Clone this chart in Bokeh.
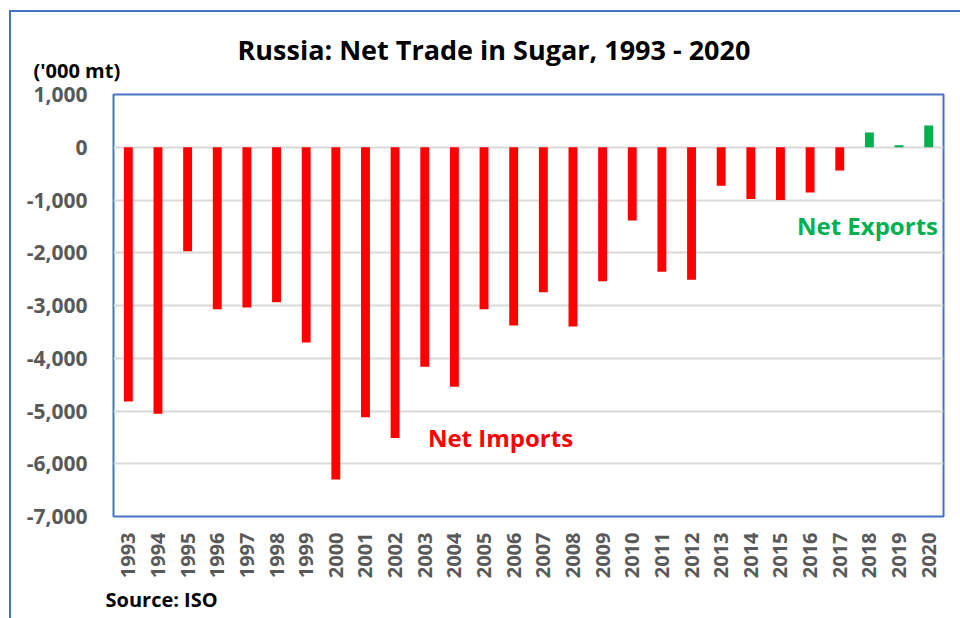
from bokeh.plotting import figure
from bokeh.models import Range1d, Label, NumeralTickFormatter, FixedTicker, Title
from bokeh.embed import file_html
from bokeh.resources import INLINE
import math

years = [str(y) for y in range(1993, 2021)]
net_trade = [-4820, -5050, -1970, -3070, -3040, -2940, -3700, -6300, -5120, -5510,
             -4160, -4540, -3070, -3380, -2750, -3400, -2540, -1390, -2360, -2510,
             -730, -980, -1000, -860, -440, 280, 40, 410]
y_ticks = [-7000, -6000, -5000, -4000, -3000, -2000, -1000, 0, 1000]

RED = "#FF0000"
GREEN = "#00B050"
BLUE = "#4472C4"
colors = [GREEN if v > 0 else RED for v in net_trade]

FONT = "Open Sans"

p = figure(width=960, height=618, x_range=years, y_range=Range1d(-7000, 1000),
           output_backend="svg", toolbar_location=None,
           min_border_left=113, min_border_right=17, min_border_top=94, min_border_bottom=102,
           border_fill_color=None, background_fill_color="white")

p.styles = {"background": f"linear-gradient({BLUE},{BLUE}) 9px 10px / 2px 100% no-repeat, "
                          f"linear-gradient({BLUE},{BLUE}) 9px 10px / 100% 2px no-repeat, white"}

p.vbar(x=years, top=net_trade, bottom=0, width=0.3, fill_color=colors, line_color=None)

p.outline_line_color = BLUE
p.outline_line_width = 2
p.xgrid.grid_line_color = None
p.ygrid.grid_line_color = "#D9D9D9"
p.ygrid.grid_line_width = 2
p.ygrid.ticker = FixedTicker(ticks=y_ticks)

p.yaxis.ticker = FixedTicker(ticks=y_ticks)
p.yaxis.formatter = NumeralTickFormatter(format="0,0")
p.yaxis.axis_line_color = None
p.yaxis.major_tick_line_color = None
p.yaxis.minor_tick_line_color = None
p.yaxis.major_label_standoff = 20
p.yaxis.major_label_text_font = FONT
p.yaxis.major_label_text_font_size = "21px"
p.yaxis.major_label_text_font_style = "bold"
p.yaxis.major_label_text_color = "#595959"

p.xaxis.axis_line_color = None
p.xaxis.major_tick_line_color = None
p.xaxis.minor_tick_line_color = None
p.xaxis.major_label_orientation = math.pi / 2
p.xaxis.major_label_standoff = 10
p.xaxis.major_label_text_font = FONT
p.xaxis.major_label_text_font_size = "20px"
p.xaxis.major_label_text_font_style = "bold"
p.xaxis.major_label_text_color = "#595959"

p.title.text = "Russia: Net Trade in Sugar, 1993 - 2020"
p.title.align = "left"
p.title.offset = 124
p.title.standoff = 0
p.title.text_font = FONT
p.title.text_font_size = "27px"
p.title.text_font_style = "bold"
p.title.text_color = "black"

p.add_layout(Label(text="('000 mt)", x=-80, y=24, x_units="screen", y_units="screen",
                   text_font=FONT, text_font_size="20px", text_font_style="bold",
                   text_color="black", text_align="left", text_baseline="middle"), "above")
p.add_layout(Title(text="Source: ISO", align="left", offset=-8, text_font=FONT,
                   text_font_size="20px", text_font_style="bold", text_color="black",
                   standoff=4), "below")

def lab(text, x, y, size, color):
    p.add_layout(Label(text=text, x=x, y=y, x_units="screen", y_units="screen",
                       text_font=FONT, text_font_size=size, text_font_style="bold",
                       text_color=color, text_align="center", text_baseline="middle"))

lab("Net Imports", 387, 79, "24px", RED)
lab("Net Exports", 754, 291, "24px", GREEN)

open("out.html", "w").write(file_html(p, INLINE))
